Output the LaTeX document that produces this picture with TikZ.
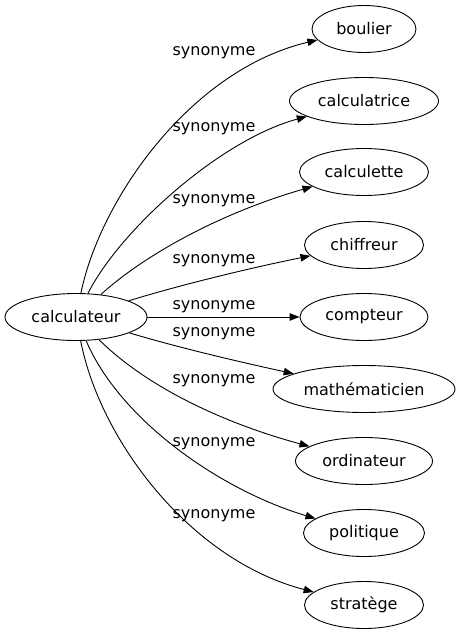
\documentclass[tikz,border=0pt]{standalone}
\usepackage{fontspec}
\setmainfont{DejaVu Sans}
\usetikzlibrary{shapes.geometric,arrows.meta}
\begin{document}
\begin{tikzpicture}[x=1pt,y=-1pt,
  word/.style={draw,ellipse,line width=0.9pt,inner sep=0pt,minimum height=47pt,font=\fontsize{16}{19}\selectfont},
  rel/.style={line width=0.9pt,-{Triangle[length=10pt,width=7.5pt]}},
  lab/.style={font=\fontsize{16}{19}\selectfont,inner sep=0pt}]
\useasboundingbox (0,0) rectangle (461,635);
\node[word,minimum width=142pt] (c) at (76,317) {calculateur};
\node[word,minimum width=104pt] (n1) at (364,29) {boulier};
\node[word,minimum width=149pt] (n2) at (364,101) {calculatrice};
\node[word,minimum width=129pt] (n3) at (364,172) {calculette};
\node[word,minimum width=119pt] (n4) at (364,245) {chiffreur};
\node[word,minimum width=128pt] (n5) at (364,317) {compteur};
\node[word,minimum width=182pt] (n6) at (364,389) {mathématicien};
\node[word,minimum width=137pt] (n7) at (364,461) {ordinateur};
\node[word,minimum width=121pt] (n8) at (364,533) {politique};
\node[word,minimum width=119pt] (n9) at (364,605) {stratège};
\draw[rel] (c) .. controls (100,200) and (190,70) .. (n1);
\draw[rel] (c) .. controls (120,230) and (220,140) .. (n2);
\draw[rel] (c) .. controls (150,250) and (230,210) .. (n3);
\draw[rel] (c) .. controls (180,285) and (250,268) .. (n4);
\draw[rel] (c) -- (n5);
\draw[rel] (c) .. controls (180,348) and (240,362) .. (n6);
\draw[rel] (c) .. controls (150,390) and (230,425) .. (n7);
\draw[rel] (c) .. controls (120,420) and (220,490) .. (n8);
\draw[rel] (c) .. controls (100,440) and (190,560) .. (n9);
\node[lab] (l1) at (214,53) {synonyme};
\node[lab] (l2) at (214,129) {synonyme};
\node[lab] (l3) at (214,201) {synonyme};
\node[lab] (l4) at (214,261) {synonyme};
\node[lab] (l5) at (214,307) {synonyme};
\node[lab] (l6) at (214,334) {synonyme};
\node[lab] (l7) at (214,381) {synonyme};
\node[lab] (l8) at (214,444) {synonyme};
\node[lab] (l9) at (214,516) {synonyme};
\end{tikzpicture}
\end{document}
